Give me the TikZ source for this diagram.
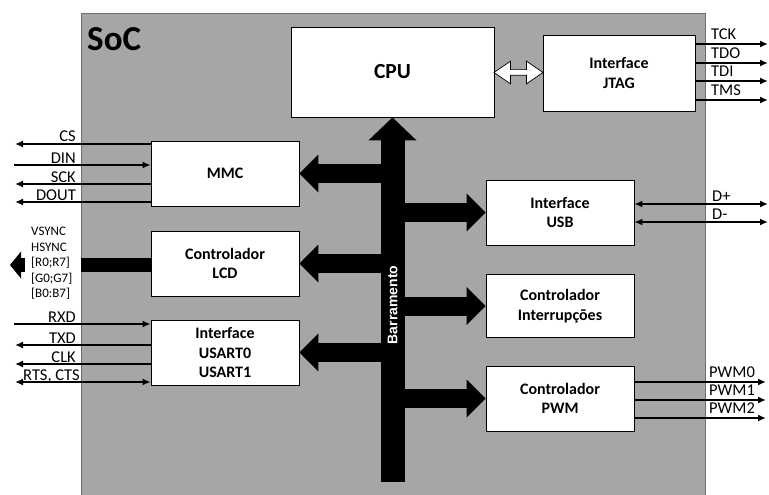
\documentclass[tikz,border=0pt]{standalone}
\usepackage{fontspec}
\setmainfont{Carlito}
\newfontfamily\busfont{Liberation Sans}
\usetikzlibrary{arrows.meta,shapes.arrows,calc}
\definecolor{socgray}{RGB}{166,166,166}
\definecolor{socedge}{RGB}{110,110,110}

\begin{document}
\begin{tikzpicture}[x=1pt, y=-1pt, >={Latex[length=8pt,width=7pt]},
    box/.style={rectangle, draw, fill=white, line width=0.8pt, minimum width=148pt, minimum height=65pt, align=center, font=\bfseries\fontsize{16}{19.5}\selectfont},
    sig/.style={line width=1.8pt},
    siglbl/.style={inner sep=0pt, font=\fontsize{16.5}{18}\selectfont},
    bus/.style={line width=24pt, -{Triangle[length=23pt,width=48pt,line width=0pt]}},
    branch/.style={line width=19pt, -{Triangle[length=19pt,width=38pt,line width=0pt]}}]
    \clip (0,0) rectangle (769,495);

    \node (soc) at (81,13) [anchor=north west, draw=socedge, fill=socgray, line width=0.8pt, minimum width=624pt, minimum height=495pt, inner sep=0pt] {};
    \node (soctitle) at (87,39.5) [anchor=west, inner sep=0pt, font=\bfseries\fontsize{35}{38}\selectfont] {SoC};

    % blocos
    \node (cpu) at (392.5,72) [box, minimum width=203pt, minimum height=90pt, font=\bfseries\fontsize{21.5}{24}\selectfont] {CPU};
    \node (jtag) at (619,73) [box, minimum width=152pt, minimum height=76pt] {Interface\\JTAG};
    \node (mmc) at (225,173.5) [box] {MMC};
    \node (lcd) at (225,263.5) [box] {Controlador\\LCD};
    \node (usart) at (225,352.5) [box] {Interface\\USART0\\USART1};
    \node (usb) at (560,212.5) [box] {Interface\\USB};
    \node (irq) at (560,306) [box, minimum height=63pt] {Controlador\\Interrupções};
    \node (pwm) at (560,398.5) [box] {Controlador\\PWM};

    % barramento
    \coordinate (busend) at (392.5,482);
    \draw[bus] (busend) -- (cpu.south);
    \draw[branch] (busend |- mmc.east) -- (mmc.east);
    \draw[branch] (busend |- lcd.east) -- (lcd.east);
    \draw[branch] (busend |- usart.east) -- (usart.east);
    \draw[branch] (busend |- usb.west) -- (usb.west);
    \draw[branch] (busend |- irq.west) -- (irq.west);
    \draw[branch] (busend |- pwm.west) -- (pwm.west);
    \node (buslbl) at (392.5,305) [rotate=90, text=white, inner sep=0pt, font=\busfont\bfseries\fontsize{14}{16}\selectfont] {Barramento};

    \node (cpujtag) at ($(cpu.east)!0.5!(jtag.west)$) [double arrow, draw, fill=white, line width=0.7pt, inner xsep=0pt, inner ysep=2.5pt, minimum height=49pt, double arrow head extend=8.5pt, double arrow tip angle=69] {};

    % sinais MMC
    \coordinate (cs) at (15,144);
    \coordinate (din) at (14,165);
    \coordinate (sck) at (15,184);
    \coordinate (dout) at (15,202);
    \draw[sig, ->] (mmc.west |- cs) -- (cs);
    \draw[sig, ->] (din) -- (mmc.west |- din);
    \draw[sig, ->] (mmc.west |- sck) -- (sck);
    \draw[sig, ->] (mmc.west |- dout) -- (dout);
    \node (cslbl) at (76,142) [siglbl, anchor=base east] {CS};
    \node (dinlbl) at (76,163) [siglbl, anchor=base east] {DIN};
    \node (scklbl) at (76,182) [siglbl, anchor=base east] {SCK};
    \node (doutlbl) at (76,200.5) [siglbl, anchor=base east] {DOUT};

    % sinais LCD
    \coordinate (lcdout) at (10,265);
    \draw[line width=13.5pt, -{Triangle[length=11pt,width=27pt,line width=0pt]}] (lcd.west |- lcdout) -- (lcdout);
    \node (lcdlbl) at (25,263.5) [anchor=west, fill=white, inner xsep=6pt, inner ysep=1pt, text width=44pt, align=left, font=\fontsize{13}{15.5}\selectfont] {VSYNC\\HSYNC\\{[R0;R7]}\\{[G0;G7]}\\{[B0:B7]}};

    % sinais USART
    \coordinate (rxd) at (14,324);
    \coordinate (txd) at (15,345);
    \coordinate (clk) at (15,364);
    \coordinate (rts) at (15,382);
    \draw[sig, ->] (rxd) -- (usart.west |- rxd);
    \draw[sig, ->] (usart.west |- txd) -- (txd);
    \draw[sig, ->] (usart.west |- clk) -- (clk);
    \draw[sig, <->] (usart.west |- rts) -- (rts);
    \node (rxdlbl) at (76,322) [siglbl, anchor=base east] {RXD};
    \node (txdlbl) at (76,343) [siglbl, anchor=base east] {TXD};
    \node (clklbl) at (76,362) [siglbl, anchor=base east] {CLK};
    \node (rtslbl) at (80,380.5) [siglbl, anchor=base east] {RTS, CTS};

    % sinais JTAG
    \coordinate (tck) at (768,44);
    \coordinate (tdo) at (768,63);
    \coordinate (tdi) at (768,81);
    \coordinate (tms) at (768,100);
    \draw[sig, ->] (jtag.east |- tck) -- (tck);
    \draw[sig, ->] (jtag.east |- tdo) -- (tdo);
    \draw[sig, ->] (jtag.east |- tdi) -- (tdi);
    \draw[sig, ->] (jtag.east |- tms) -- (tms);
    \node (tcklbl) at (711,39.5) [siglbl, anchor=base west] {TCK};
    \node (tdolbl) at (711,58.5) [siglbl, anchor=base west] {TDO};
    \node (tdilbl) at (711,76.5) [siglbl, anchor=base west] {TDI};
    \node (tmslbl) at (711,95.5) [siglbl, anchor=base west] {TMS};

    % sinais USB
    \coordinate (dp) at (768,204);
    \coordinate (dm) at (768,222);
    \draw[sig, <->] (usb.east |- dp) -- (dp);
    \draw[sig, <->] (usb.east |- dm) -- (dm);
    \node (dplbl) at (712,201) [siglbl, anchor=base west] {D+};
    \node (dmlbl) at (712,219) [siglbl, anchor=base west] {D-};

    % sinais PWM
    \coordinate (pwm0) at (766,382);
    \coordinate (pwm1) at (766,400);
    \coordinate (pwm2) at (766,418);
    \draw[sig, ->] (pwm.east |- pwm0) -- (pwm0);
    \draw[sig, ->] (pwm.east |- pwm1) -- (pwm1);
    \draw[sig, ->] (pwm.east |- pwm2) -- (pwm2);
    \node (pwm0lbl) at (709,377.5) [siglbl, anchor=base west] {PWM0};
    \node (pwm1lbl) at (709,395.5) [siglbl, anchor=base west] {PWM1};
    \node (pwm2lbl) at (709,413.5) [siglbl, anchor=base west] {PWM2};
\end{tikzpicture}
\end{document}
